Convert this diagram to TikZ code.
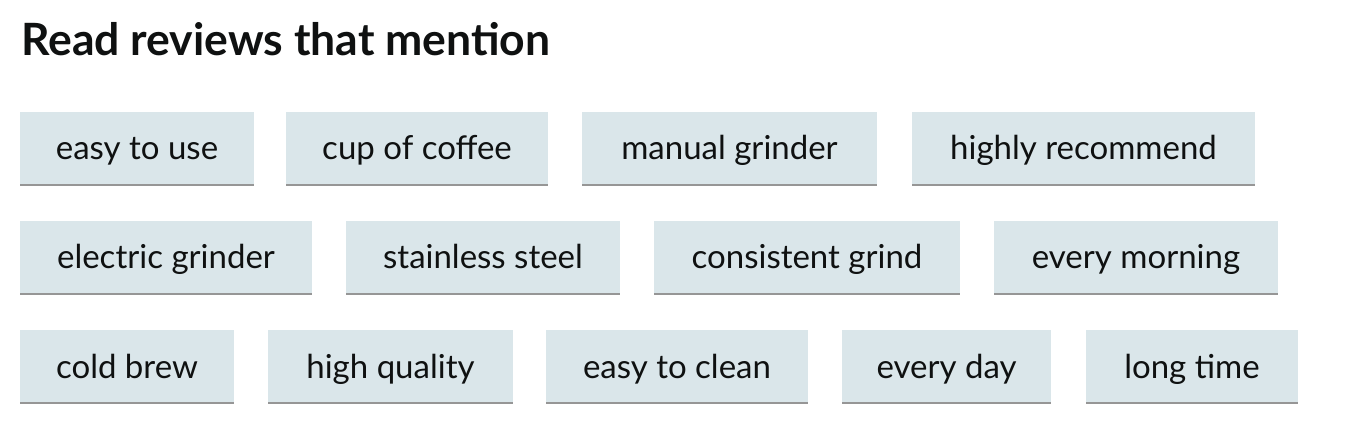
\documentclass[tikz,border=0pt]{standalone}
\usepackage{fontspec}
\setmainfont{Lato}
\definecolor{chipfill}{RGB}{218,230,234}
\definecolor{chipline}{RGB}{150,150,150}
\definecolor{inktext}{RGB}{15,17,17}
\tikzset{
  chip/.style={fill=chipfill, draw=none},
  chiptext/.style={text=inktext, font=\fontsize{33}{40}\selectfont, inner sep=0pt, anchor=base},
  chipbase/.style={draw=chipline, line width=2pt},
}
\newcommand{\chipbox}[6]{% name, x1, x2, ytop, ybot, text
  \fill[chip] (#2,#4) rectangle (#3,#5);
  \node[chiptext] (#1) at ({(#2+#3)/2},{#4+48}) {#6};
  \draw[chipbase] (#2,#5-1) -- (#3,#5-1);
}
\begin{document}
\begin{tikzpicture}[x=1pt,y=-1pt]
\useasboundingbox (0,0) rectangle (1356,438);
\fill[white] (0,0) rectangle (1356,438);
\node[anchor=base west, inner sep=0pt, text=inktext, font=\fontsize{44.5}{52}\selectfont\bfseries] (title) at (21,56) {Read reviews that mention};
% row 1
\chipbox{a1}{20}{254}{112}{186}{easy to use}
\chipbox{a2}{286}{548}{112}{186}{cup of coffee}
\chipbox{a3}{582}{877}{112}{186}{manual grinder}
\chipbox{a4}{912}{1255}{112}{186}{highly recommend}
% row 2
\chipbox{b1}{20}{312}{221}{295}{electric grinder}
\chipbox{b2}{346}{620}{221}{295}{stainless steel}
\chipbox{b3}{654}{960}{221}{295}{consistent grind}
\chipbox{b4}{994}{1278}{221}{295}{every morning}
% row 3
\chipbox{c1}{20}{234}{330}{404}{cold brew}
\chipbox{c2}{268}{513}{330}{404}{high quality}
\chipbox{c3}{546}{808}{330}{404}{easy to clean}
\chipbox{c4}{842}{1051}{330}{404}{every day}
\chipbox{c5}{1086}{1298}{330}{404}{long time}
\end{tikzpicture}
\end{document}
